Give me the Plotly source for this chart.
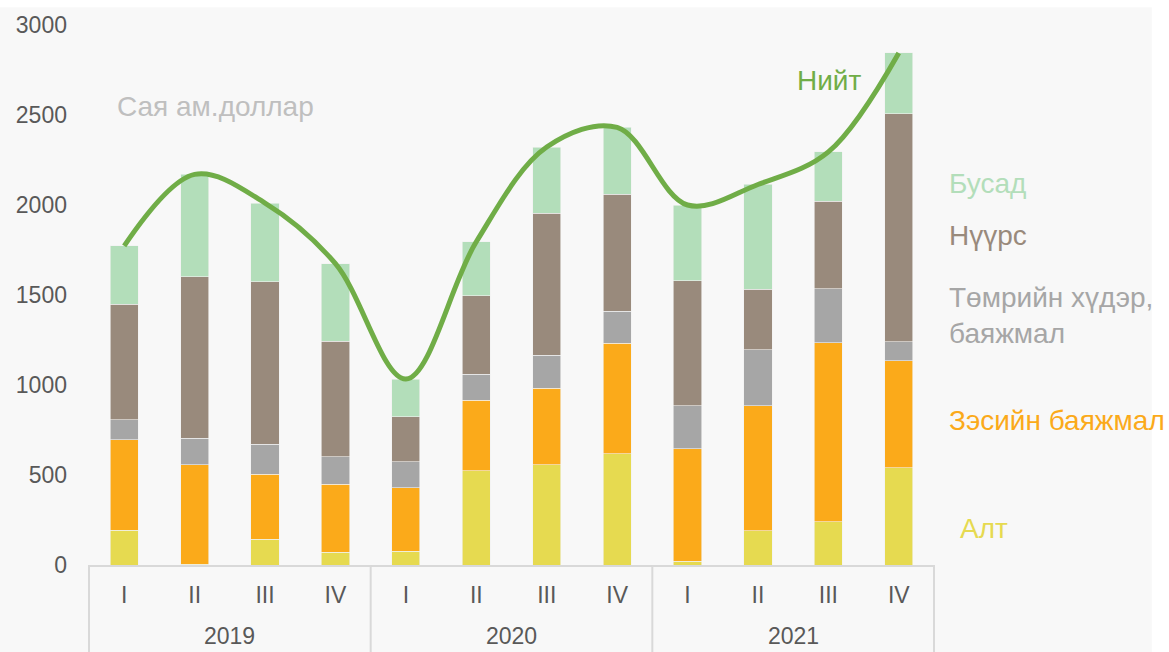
import plotly.graph_objects as go

years = ["2019", "2020", "2021"]
quarters = ["I", "II", "III", "IV"]

gold = [193, 3, 144, 72, 77, 525, 558, 619, 22, 190, 239, 541]
copper = [503, 553, 360, 377, 352, 390, 425, 613, 623, 694, 997, 595]
iron = [111, 147, 168, 153, 146, 146, 183, 177, 239, 313, 300, 105]
coal = [641, 899, 901, 641, 250, 435, 788, 650, 694, 335, 486, 1266]
other = [325, 568, 438, 431, 208, 300, 368, 372, 422, 582, 273, 338]

series_names = ["Алт", "Зэсийн баяжмал", "Төмрийн хүдэр, баяжмал", "Нүүрс", "Бусад"]
series_values = [gold, copper, iron, coal, other]
series_colors = ["#E6DA50", "#FBAA1A", "#A6A6A6", "#998A7C", "#B3DEBA"]
total_name = "Нийт"
unit_label = "Сая ам.доллар"

categories = [f"{y} {q}" for y in years for q in quarters]
tick_text = [q for y in years for q in quarters]
totals = [sum(v) for v in zip(*series_values)]

FONT = "Liberation Sans, Arial, sans-serif"
fig = go.Figure()
for name, vals, col in zip(series_names, series_values, series_colors):
    fig.add_trace(go.Bar(x=categories, y=vals, name=name, marker_color=col,
                         marker_line=dict(color="#F2F2F2", width=0.6)))
fig.add_trace(go.Scatter(x=categories, y=totals, name=total_name, mode="lines",
                         line=dict(color="#70AD47", width=5, shape="spline", smoothing=1.0)))

fig.update_layout(
    barmode="stack", bargap=0.6, showlegend=False,
    width=1169, height=652,
    margin=dict(l=88, r=234, t=22, b=87),
    paper_bgcolor="#F8F8F8", plot_bgcolor="#F8F8F8",
    font=dict(family=FONT, size=23, color="#595959"),
)
fig.update_yaxes(range=[0, 3000], dtick=500, showgrid=False, zeroline=False,
                 showline=False, ticks="", ticklabelstandoff=20,
                 tickfont=dict(size=23, color="#595959"))
fig.update_xaxes(type="category", tickvals=categories, ticktext=tick_text,
                 showline=True, linecolor="#D9D9D9", linewidth=2, ticks="",
                 showgrid=False, ticklabelstandoff=8,
                 tickfont=dict(size=23, color="#595959"))

# year group labels and dividers
for i, y in enumerate(years):
    fig.add_annotation(x=i * 4 + 1.5, xref="x", y=-0.131, yref="paper", text=y,
                       showarrow=False, yanchor="middle", xanchor="center",
                       font=dict(size=23, color="#595959"))
for i in range(len(years) + 1):
    fig.add_shape(type="line", xref="x", yref="paper", x0=i * 4 - 0.5, x1=i * 4 - 0.5,
                  y0=0, y1=-0.17, line=dict(color="#D9D9D9", width=2))

# white outer border
fig.add_shape(type="rect", xref="paper", yref="paper", x0=-0.2, x1=1.3, y0=1.033, y1=1.05,
              fillcolor="white", line_width=0, layer="below")
fig.add_shape(type="rect", xref="paper", yref="paper", x0=1.256, x1=1.3, y0=-0.2, y1=1.05,
              fillcolor="white", line_width=0, layer="below")

label_specs = [
    (unit_label, 0.032, 0.849, "#BFBFBF"),
    (total_name, 0.835, 0.897, "#70AD47"),
    (series_names[4], 1.014, 0.707, "#B3DEBA"),
    (series_names[3], 1.014, 0.610, "#998A7C"),
    ("Төмрийн хүдэр,<br>баяжмал", 1.014, 0.462, "#A6A6A6"),
    (series_names[1], 1.014, 0.267, "#FBAA1A"),
    (series_names[0], 1.027, 0.068, "#E6DA50"),
]
for txt, x, y, col in label_specs:
    fig.add_annotation(x=x, y=y, xref="paper", yref="paper", text=txt, showarrow=False,
                       xanchor="left", yanchor="middle", align="left",
                       font=dict(size=28, color=col, family=FONT))

fig.write_html("out.html", config={"displayModeBar": False})
with open("out.html", encoding="utf-8") as f:
    html = f.read()
html = html.replace("<body>", '<body style="margin:0;padding:0">', 1)
with open("out.html", "w", encoding="utf-8") as f:
    f.write(html)
